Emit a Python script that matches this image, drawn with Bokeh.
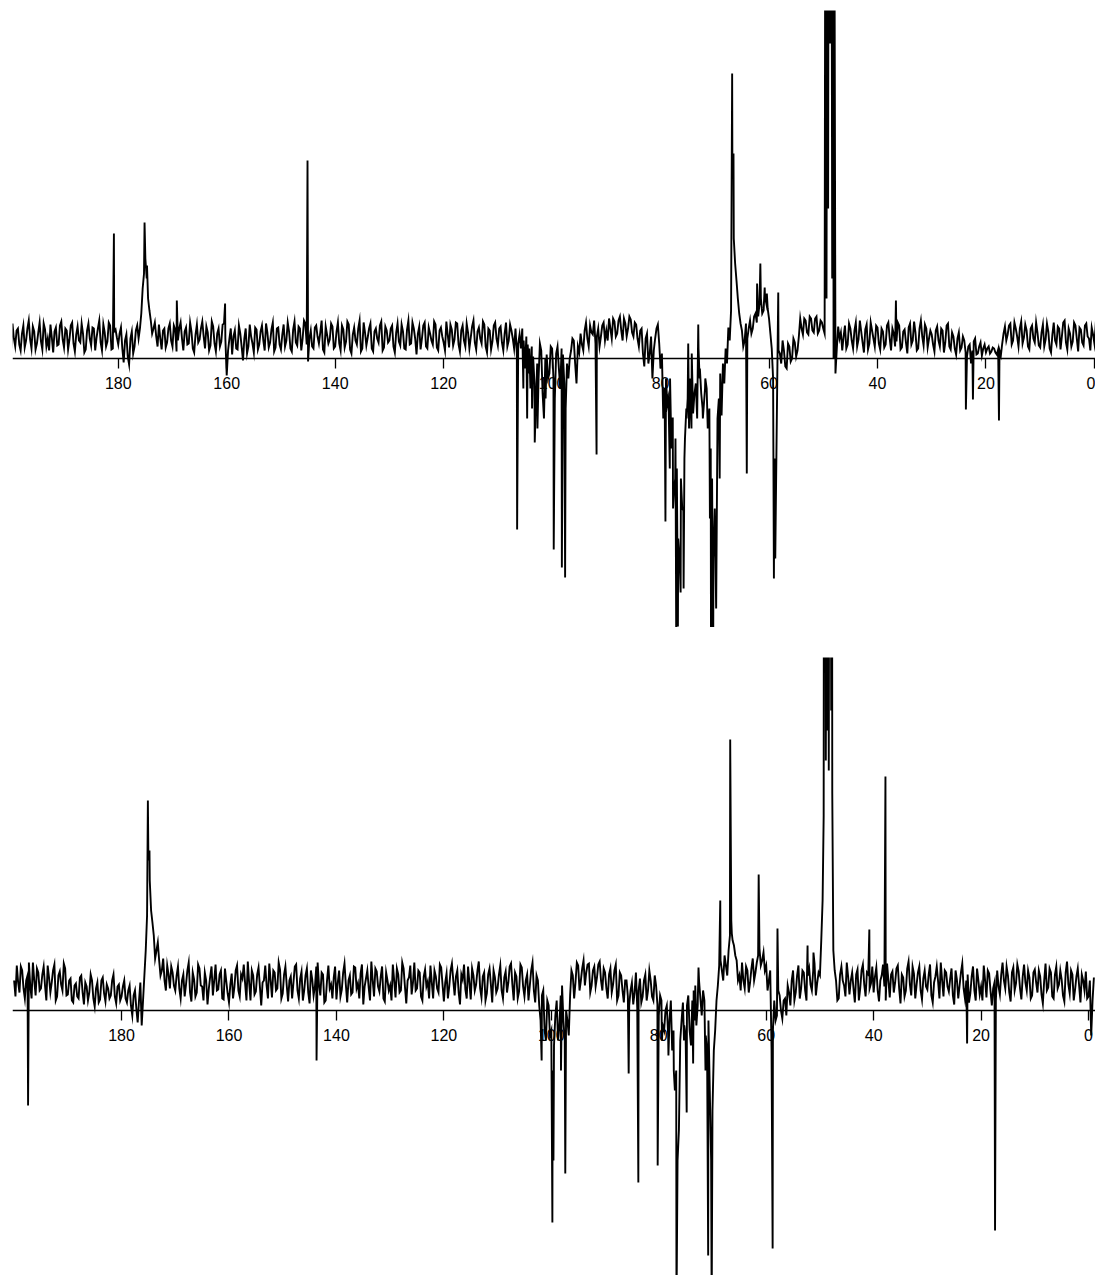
from bokeh.plotting import figure
from bokeh.layouts import column
from bokeh.models import Range1d, FixedTicker, ColumnDataSource
from bokeh.embed import file_html
from bokeh.resources import INLINE

# chemical-shift ticks (ppm)
tick_values = [0, 20, 40, 60, 80, 100, 120, 140, 160, 180]

# baseline samples every 0.5 ppm from 200.0 down to -1.0 ppm,
# plus the in-between samples from 199.75 down to -0.75 ppm
grid_start = 200.0
mid_start = 199.75
grid_step = 0.5

top_baseline = [
    22, 35, 12, 30, 8, 33, 18, 38, 10, 27, 15, 36, 9, 29, 20, 34, 6, 31, 14, 37,
    11, 28, 19, 36, 7, 32, 16, 25, 9, 35, 13, 30, 21, 38, 8, 26, 17, 33, 10, 29,
    14, 31, -4, 24, -6, 27, 12, 33, 30, 70, 100, 60, 38, 30, 22, 34, 9, 30, 16, 35,
    12, 29, 18, 36, 8, 31, 15, 27, 6, 34, 19, 37, 10, 26, 13, 32, 7, 30, 17, 35,
    -17, 20, 4, 28, 9, 25, -2, 30, 12, 22, 6, 29, 14, 33, 8, 26, 16, 36, 11, 31,
    9, 34, 18, 27, 7, 37, 13, 30, 20, 35, -3, 28, 10, 33, 15, 38, 6, 24, 19, 32,
    12, 36, 8, 29, 17, 34, 5, 31, 14, 38, 10, 26, 21, 35, 7, 30, 16, 37, 11, 28,
    18, 33, 6, 35, 13, 27, 9, 38, 15, 30, 4, 32, 20, 36, 10, 25, 14, 34, 8, 31,
    16, 37, 11, 29, 19, 35, 7, 33, 12, 26, 21, 38, 9, 31, 15, 34, 6, 28, 17, 36,
    13, 32, 8, 36, 18, 28, 10, 5, 24, 30, -10, 14, -30, 2, -45, -20, 8, -60, 4, -15,
    10, -40, 12, -30, 4, -50, -20, 8, 18, -25, 6, 14, 28, 20, 33, 24, 15, 30, 22, 36,
    28, 40, 20, 37, 25, 42, 18, 35, 30, 39, 22, 34, 12, 30, -8, 25, 5, -20, 20, 34,
    -10, -60, -20, -50, -90, -130, -110, -200, -150, -80, -40, -20, -55, -25, 10, -35, -45, -30, -50, -120,
    -150, -60, -15, -5, 10, 31, 48, 120, 78, 45, 28, 18, 20, 38, 30, 45, 42, 60, 48, 55,
    40, 10, -100, -30, 5, 18, -8, 15, -3, 20, 2, 22, 30, 40, 26, 42, 28, 40, 25, 38,
    30, 600, 600, 600, 600, 10, 20, 8, 33, 14, 30, 10, 36, 19, 27, 6, 34, 15, 28, 12,
    31, 9, 27, 14, 36, 8, 25, 17, 33, 11, 29, 5, 35, 18, 26, 10, 38, 13, 30, 20,
    24, 7, 32, 12, 28, 16, 35, 9, 22, 4, 26, 11, 18, 2, 14, 8, 20, 5, 16, 10,
    6, 12, 7, 10, 4, 8, 15, 32, 24, 35, 18, 30, 12, 37, 21, 28, 9, 33, 16, 26,
    11, 34, 19, 27, 6, 36, 14, 30, 22, 38, 9, 25, 17, 33, 7, 29, 13, 35, 20, 31,
    15, 28, 10,
]

top_midline = [
    10, 20, 28, 14, 25, 11, 30, 19, 32, 9, 26, 17, 35, 12, 8, 21, 27, 13, 33, 19,
    30, 9, 33, 15, 24, 18, 35, 6, 28, 20, 31, 8, 30, 16, 34, 12, 36, 9, 27, 21,
    25, 10, 18, 2, 20, 5, 28, 20, 45, 85, 80, 48, 25, 36, 12, 20, 28, 11, 30, 18,
    33, 7, 30, 20, 27, 14, 36, 10, 24, 16, 30, 22, 32, 8, 37, 15, 25, 12, 34, 20,
    8, 30, 22, 10, 33, 12, 20, 5, 34, 15, 31, 9, 27, 18, 35, 11, 29, 7, 30, 14,
    24, 12, 36, 10, 29, 16, 32, 8, 38, 14, 20, 12, 31, 22, 26, 9, 32, 15, 35, 10,
    27, 15, 33, 11, 37, 9, 24, 18, 30, 7, 36, 13, 30, 10, 27, 20, 33, 8, 32, 16,
    30, 12, 26, 17, 34, 10, 29, 14, 36, 20, 25, 9, 33, 12, 31, 18, 37, 11, 28, 22,
    8, 24, 34, 13, 36, 14, 28, 18, 35, 10, 32, 16, 27, 20, 37, 12, 30, 9, 33, 20,
    30, 16, 25, 12, 34, 20, 30, 15, 10, 18, 22, -15, 12, -25, -5, 15, -35, 0, -20, 12,
    -20, 5, -10, 10, -25, -5, 0, 20, -5, 12, 25, 8, 36, 12, 26, 38, 22, 12, 33, 18,
    18, 30, 40, 22, 38, 28, 40, 22, 42, 26, 36, 20, 28, 5, 20, -5, 22, 8, 30, 15,
    5, -30, -45, -20, -60, -80, -180, -120, -230, -50, -70, 5, -35, -60, -10, -50, -20, -65, -90, -200,
    -250, -40, -57, -25, -5, 18, 180, 95, 60, 35, 12, 35, 30, 25, 42, 36, 55, 45, 62, 50,
    25, -20, -150, 8, -5, 8, -10, 12, 0, 16, 8, 40, 24, 38, 24, 40, 26, 42, 28, 36,
    25, 600, 315, 600, -15, 32, 26, 22, 10, 35, 18, 28, 12, 38, 16, 29, 9, 36, 20, 33,
    15, 30, 11, 33, 20, 30, 12, 36, 9, 27, 16, 31, 14, 37, 8, 30, 22, 34, 11, 28,
    14, 28, 18, 30, 6, 33, 12, 26, 10, 20, 8, 22, 6, 12, -5, 17, 4, 12, 3, 14,
    10, 5, 11, 6, 9, 3, 25, 18, 33, 14, 36, 22, 30, 15, 34, 12, 30, 20, 36, 13,
    26, 12, 35, 10, 24, 18, 32, 9, 36, 16, 30, 12, 36, 20, 31, 16, 33, 22, 8, 24,
    35, 20,
]

top_peak_ppm = [
    180.8, 175.15, 174.7, 169.2, 160.3, 145.1, 106.45, 105.3, 104.6, 104.2,
    103.7, 103.2, 102.7, 101.2, 99.7, 98.2, 97.6, 91.8, 79.1, 78.6,
    78.3, 77.9, 77.7, 77.3, 77.1, 76.8, 76.3, 75.8, 75.6, 75.2,
    74.9, 74.3, 73.05, 72.8, 72.2, 71.8, 71.3, 70.9, 70.7, 70.3,
    69.1, 66.8, 66.55, 64.1, 62.2, 61.6, 60.8, 60.4, 59.1, 58.85,
    58.3, 49.6, 49.4, 49.1, 48.35, 48.2, 48.1, 36.6, 23.7, 22.4, 17.6,
]
top_peak_int = [
    125, 136, 93, 58, 55, 198, -171, -30, -60, 10,
    -50, -84, -70, -40, -191, -209, -219, -96, -163, -40,
    -110, -60, -150, -120, -300, -268, -234, -152, -100, -60,
    15, -70, 34, -20, -60, -30, -70, -160, -300, -300,
    -120, 285, 205, -115, 75, 95, 71, 65, -220, -200,
    66, 600, 60, 150, 80, 600, 0, 58, -51, -41, -62,
]

bottom_baseline = [
    30, 45, 18, 40, 12, 35, 25, 48, 15, 38, 22, 44, 10, 33, 28, 46, 14, 39, 20, 42,
    16, 32, 8, 27, 12, 35, 6, 24, 18, 30, 4, 28, 11, 33, 9, 22, 15, 36, 7, 26,
    14, 30, 8, 25, -5, 20, -12, 28, 10, 60, 150, 100, 75, 60, 50, 40, 30, 45, 22, 38,
    20, 44, 12, 36, 26, 48, 9, 31, 18, 42, 24, 38, 6, 34, 15, 46, 21, 40, 11, 29,
    8, 37, 23, 45, 14, 32, 27, 49, 10, 35, 19, 43, 5, 30, 25, 47, 13, 38, 22, 41,
    17, 44, 9, 34, 28, 46, 12, 39, 20, 42, 7, 31, 24, 48, 15, 36, 10, 45, 26, 33,
    11, 40, 21, 47, 8, 35, 18, 43, 27, 37, 6, 32, 23, 49, 14, 39, 19, 44, 9, 30,
    25, 46, 13, 36, 20, 42, 7, 33, 16, 48, 22, 38, 10, 41, 29, 45, 12, 34, 18, 43,
    9, 37, 24, 47, 15, 40, 6, 31, 21, 44, 11, 35, 26, 49, 13, 38, 17, 42, 8, 33,
    22, 45, 12, 39, 28, 47, 10, 34, 19, 43, 14, 36, 25, 48, 8, 30, -10, 20, -30, 5,
    -20, -35, 10, -15, 25, -30, -10, 15, 35, 28, 45, 30, 50, 38, 47, 25, 44, 33, 49, 20,
    38, 12, 42, 26, 46, 15, 35, 8, 30, 5, 28, 18, 2, 32, 14, 36, 20, 30, 10, 25,
    -5, 10, -20, 5, -10, -40, -80, -150, -30, 8, -25, 15, -35, 20, -15, 30, -5, 10, -40, -80,
    -100, -20, 25, 50, 30, 45, 60, 90, 65, 50, 35, 48, 22, 40, 28, 52, 38, 55, 45, 58,
    45, 30, -40, 10, -5, 15, -8, 12, 25, 5, 40, 18, 45, 22, 38, 10, 42, 20, 47, 28,
    35, 110, 600, 600, 600, 60, 30, 12, 44, 25, 48, 16, 38, 8, 41, 22, 46, 14, 36, 27,
    18, 43, 9, 35, 24, 47, 13, 39, 28, 45, 7, 33, 20, 49, 15, 37, 26, 44, 11, 40,
    21, 46, 8, 34, 29, 48, 14, 38, 19, 42, 6, 31, 25, 47, 12, 36, 17, 44, 10, 30,
    24, 45, 13, 37, 5, 28, 40, 16, 48, 22, 35, 9, 43, 27, 39, 11, 46, 20, 33, 15,
    41, 18, 34, 7, 47, 23, 38, 12, 44, 26, 31, 9, 49, 17, 36, 21, 42, 8, 30, 39,
    14, -25, 33,
]

bottom_midline = [
    14, 28, 44, 22, 30, 48, 12, 30, 42, 20, 36, 25, 45, 18, 40, 10, 35, 26, 47, 15,
    30, 10, 25, 14, 33, 18, 28, 10, 36, 12, 22, 8, 30, 17, 26, 12, 30, 14, 24, 10,
    24, 12, 20, 5, 15, 2, 10, -15, 35, 95, 130, 88, 52, 68, 35, 52, 20, 36, 44, 25,
    35, 22, 30, 14, 40, 18, 38, 14, 46, 25, 10, 30, 22, 44, 30, 20, 36, 12, 42, 17,
    26, 12, 40, 20, 36, 46, 10, 28, 40, 16, 36, 24, 28, 45, 12, 30, 40, 20, 48, 12,
    36, 25, 30, 12, 44, 20, 32, 10, 35, 18, 40, 15, 44, 26, 38, 8, 30, 22, 12, 44,
    28, 14, 38, 26, 30, 16, 44, 22, 12, 46, 24, 40, 10, 30, 42, 24, 34, 12, 38, 20,
    10, 30, 42, 18, 48, 24, 30, 45, 28, 20, 40, 14, 34, 24, 12, 28, 40, 22, 46, 26,
    28, 12, 40, 30, 34, 18, 36, 46, 12, 28, 42, 20, 40, 22, 34, 10, 36, 26, 40, 18,
    36, 20, 33, 18, 44, 26, 38, 12, 46, 24, 30, 10, 40, 20, 35, 5, 15, -20, 10, -25,
    -60, -5, -30, 15, -10, 0, -25, 40, 12, 48, 20, 42, 25, 46, 18, 40, 24, 46, 30, 42,
    22, 36, 18, 40, 10, 38, 20, 30, 14, 20, 6, 38, 20, 8, 30, 10, 40, 14, 35, 6,
    15, -15, 0, -25, 10, -20, -60, -120, -10, -15, 5, -20, 10, -10, 5, 12, 20, -25, -10, -150,
    -40, 10, 45, 40, 55, 35, 75, 70, 55, 30, 20, 30, 44, 18, 42, 30, 48, 62, 50, 40,
    20, 40, -20, -10, 20, 0, 10, -5, 18, 30, 10, 35, 12, 40, 20, 35, 26, 40, 15, 38,
    70, 600, 600, 600, 600, 40, 10, 36, 30, 14, 34, 30, 22, 36, 10, 40, 26, 38, 22, 44,
    34, 20, 30, 46, 10, 30, 36, 18, 42, 22, 36, 14, 42, 26, 44, 12, 38, 20, 32, 24,
    36, 15, 28, 44, 12, 30, 40, 24, 32, 15, 40, 12, 38, 22, 30, 8, 34, 20, 42, 16,
    10, 30, 40, 20, 22, 10, 24, 36, 30, 44, 18, 38, 20, 46, 22, 34, 28, 40, 12, 38,
    28, 40, 16, 30, 20, 42, 14, 36, 22, 40, 15, 38, 26, 40, 10, 34, 25, 36, 20, 12,
    30, 10,
]

bottom_peak_ppm = [
    197.4, 175.1, 174.8, 143.7, 101.8, 99.8, 99.6, 98.2, 97.4, 85.6,
    83.8, 80.2, 79.4, 78.2, 77.2, 76.7, 75.3, 74.8, 73.6, 73.2,
    72.6, 71.3, 70.8, 70.15, 68.55, 66.7, 66.4, 61.4, 58.8, 57.9,
    52.3, 51.2, 49.3, 48.9, 48.6, 48.35, 47.9, 47.8, 47.7, 40.8,
    37.8, 22.6, 17.4,
]
bottom_peak_int = [
    -95, 210, 160, -50, -50, -212, -150, -60, -163, -63,
    -172, -155, -30, -45, -60, -300, -30, -102, -53, 25,
    43, -60, -245, -300, 110, 271, 77, 136, -238, 82,
    65, 58, 195, 250, 280, 240, 300, 600, 217, 81,
    234, -33, -220,
]

assert len(top_baseline) == 403 and len(bottom_baseline) == 403
assert len(top_midline) == 402 and len(bottom_midline) == 402
assert len(top_peak_ppm) == len(top_peak_int)
assert len(bottom_peak_ppm) == len(bottom_peak_int)


def spectrum_source(baseline, midline, peak_ppm, peak_int):
    grid_ppm = [grid_start - grid_step * i for i in range(len(baseline))]
    mid_ppm = [mid_start - grid_step * i for i in range(len(midline))]
    pts = (list(zip(grid_ppm, baseline)) + list(zip(mid_ppm, midline))
           + list(zip(peak_ppm, peak_int)))
    pts.sort(key=lambda t: -t[0])
    return ColumnDataSource(dict(x=[t[0] for t in pts], y=[t[1] for t in pts]))


def panel(src, x_start, x_end, y_start, y_end, height, top_border):
    p = figure(width=1095, height=height,
               x_range=Range1d(x_start, x_end), y_range=Range1d(y_start, y_end),
               output_backend="svg", toolbar_location=None, y_axis_location=None,
               min_border_left=12, min_border_right=0,
               min_border_top=top_border, min_border_bottom=0)
    p.line("x", "y", source=src, line_color="black", line_width=1.9,
           line_join="miter")
    p.xgrid.visible = False
    p.ygrid.visible = False
    p.outline_line_color = None
    p.background_fill_color = "white"
    p.border_fill_color = "white"
    ax = p.xaxis[0]
    ax.fixed_location = 0
    ax.ticker = FixedTicker(ticks=tick_values)
    ax.minor_tick_line_color = None
    ax.major_tick_in = 0
    ax.major_tick_out = 10
    ax.major_tick_line_color = "black"
    ax.major_tick_line_width = 1.3
    ax.axis_line_color = "black"
    ax.axis_line_width = 1.4
    ax.major_label_text_font = "Liberation Sans"
    ax.major_label_text_font_size = "16px"
    ax.major_label_text_color = "black"
    ax.major_label_standoff = 8
    return p


top = panel(spectrum_source(top_baseline, top_midline, top_peak_ppm, top_peak_int),
            199.5, -0.2, -269, 348, 627, 10)
bottom = panel(spectrum_source(bottom_baseline, bottom_midline, bottom_peak_ppm, bottom_peak_int),
               200.3, -1.3, -265, 353, 648, 30)

layout = column(top, bottom, spacing=0)
open("out.html", "w").write(file_html(layout, INLINE))
